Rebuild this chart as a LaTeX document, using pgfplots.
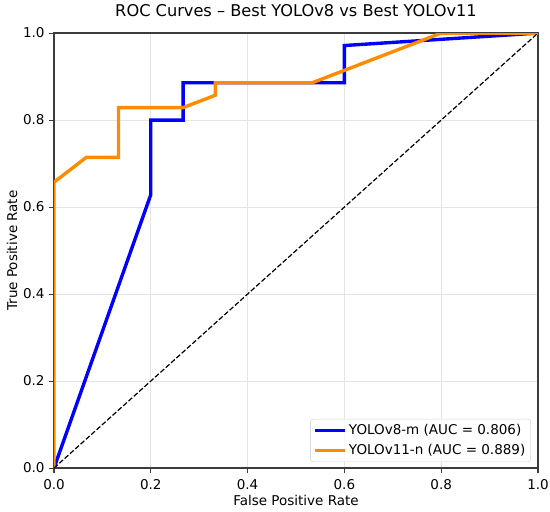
\documentclass[border=0pt]{standalone}
\usepackage{pgfplots}
\pgfplotsset{compat=1.18}
\usepackage{fontspec}
\setmainfont{DejaVu Sans}
\definecolor{mpblue}{RGB}{0,0,255}
\definecolor{mporange}{RGB}{255,140,0}
\definecolor{spine}{RGB}{60,60,60}
\begin{document}
\begin{tikzpicture}
\path[use as bounding box] (-40pt,-31.85pt) rectangle (367.4pt,346.7pt);
\begin{axis}[
  at={(0,0)}, anchor=south west,
  scale only axis,
  width=358.5pt, height=322.2pt,
  xmin=0, xmax=1, ymin=0, ymax=1,
  xtick={0,0.2,0.4,0.6,0.8,1}, ytick={0,0.2,0.4,0.6,0.8,1},
  xticklabels={0.0,0.2,0.4,0.6,0.8,1.0},
  yticklabels={0.0,0.2,0.4,0.6,0.8,1.0},
  /pgf/number format/assume math mode=true,
  tick align=outside, major tick length=3.5pt,
  tick style={spine, line width=0.8pt},
  xtick pos=bottom, ytick pos=left,
  axis line style={spine, line width=1.2pt},
  grid=major,
  major grid style={gray!20, line width=0.6pt},
  ticklabel style={font=\fontsize{10}{12}\selectfont},
  xticklabel style={yshift=-1.5pt},
  xlabel={False Positive Rate},
  ylabel={True Positive Rate},
  xlabel style={at={(axis description cs:0.5,-0.0872)}, anchor=base, font=\fontsize{10}{12}\selectfont},
  ylabel style={at={(axis description cs:-0.0764,0.5)}, anchor=base, rotate=0, font=\fontsize{10}{12}\selectfont},
  every axis title shift=0pt,
  title={ROC Curves – Best YOLOv8 vs Best YOLOv11},
  title style={at={(axis description cs:0.5,1.0391)}, anchor=base, yshift=0pt, font=\fontsize{12}{14}\selectfont},
  legend style={at={(axis description cs:0.9855,0.0137)}, anchor=south east,
    draw=gray!30, rounded corners=2pt, fill=white, fill opacity=0.8, text opacity=1,
    font=\fontsize{10}{12}\selectfont, inner sep=2pt,
    row sep=1.5pt},
  legend cell align=left,
  legend image code/.code={\draw[#1] (0pt,0pt) -- (22pt,0pt);},
]
\addplot[mpblue, line width=2.5pt, line join=miter] coordinates {
 (0,0) (0.2,0.6286) (0.2,0.8) (0.2667,0.8) (0.2667,0.8857) (0.6,0.8857) (0.6,0.9714) (1,1)
};
\addlegendentry{YOLOv8-m (AUC = 0.806)}
\addplot[mporange, line width=2.5pt, line join=miter] coordinates {
 (0,0) (0,0.6571) (0.0667,0.7143) (0.1333,0.7143) (0.1333,0.8286) (0.2667,0.8286) (0.3333,0.8571) (0.3333,0.8857) (0.5333,0.8857) (0.8,1) (1,1)
};
\addlegendentry{YOLOv11-n (AUC = 0.889)}
\addplot[black, line width=0.9pt, dash pattern=on 3.7pt off 1.6pt, forget plot] coordinates {(0,0) (1,1)};
\end{axis}
\end{tikzpicture}
\end{document}
